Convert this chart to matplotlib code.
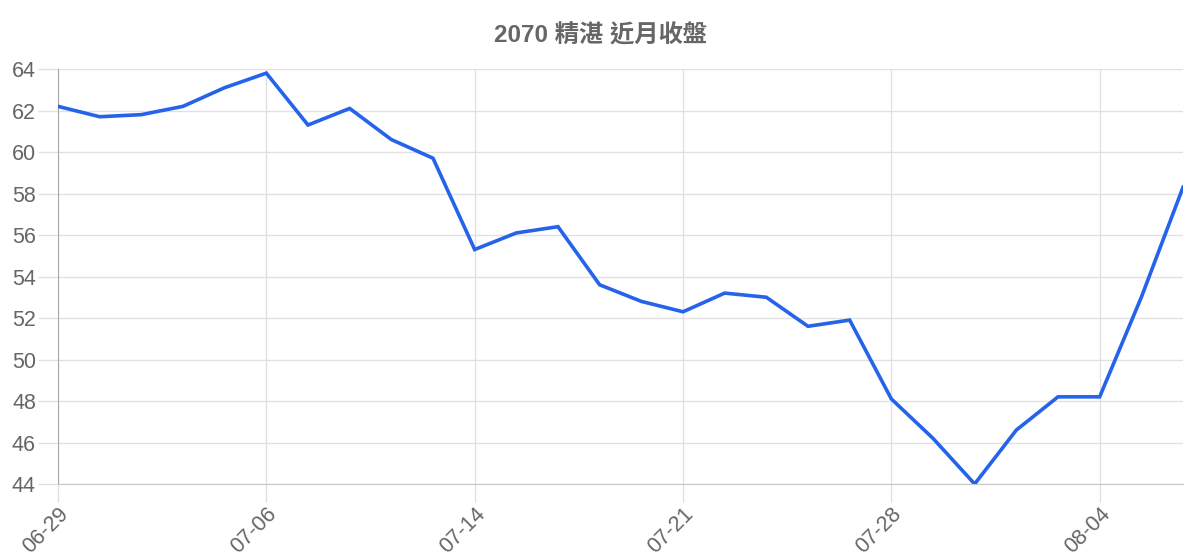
import matplotlib
matplotlib.use("Agg")
import matplotlib.pyplot as plt

plt.rcParams['font.family'] = ['Liberation Sans', 'Noto Sans CJK TC', 'DejaVu Sans']

# trading days and close prices
dates = ['06-29', '06-30', '07-01', '07-02', '07-03', '07-06', '07-07', '07-08',
         '07-09', '07-10', '07-14', '07-15', '07-16', '07-17', '07-20', '07-21',
         '07-22', '07-23', '07-24', '07-27', '07-28', '07-29', '07-30', '07-31',
         '08-03', '08-04', '08-05', '08-06']
closes = [62.2, 61.7, 61.8, 62.2, 63.1, 63.8, 61.3, 62.1, 60.6, 59.7,
          55.3, 56.1, 56.4, 53.6, 52.8, 52.3, 53.2, 53.0, 51.6, 51.9,
          48.1, 46.2, 44.0, 46.6, 48.2, 48.2, 53.0, 58.3]
title = '2070 精湛 近月收盤'
yticks = list(range(44, 65, 2))

fig = plt.figure(figsize=(12, 5.6), dpi=100)
ax = fig.add_axes([58 / 1200, 1 - 484 / 560, (1183 - 58) / 1200, (484 - 69) / 560])

x = list(range(len(dates)))
ax.plot(x, closes, color='#2563eb', linewidth=2.6, solid_joinstyle='miter', zorder=3)

ax.set_xlim(0, len(dates) - 1)
ax.set_ylim(44, 64)
ax.set_yticks(yticks)
xt = x[::5]
ax.set_xticks(xt)
ax.set_xticklabels([dates[i] for i in xt], rotation=45, ha='right', va='top',
                   rotation_mode='anchor')

ax.grid(True, color='#e1e1e1', linewidth=1.0)
ax.tick_params(axis='both', colors='#e1e1e1', labelcolor='#666666', labelsize=15.5, width=1.0)
ax.tick_params(axis='y', length=14.4, pad=1.5)
ax.tick_params(axis='x', length=13, pad=1)

for s in ['top', 'right']:
    ax.spines[s].set_visible(False)
ax.spines['left'].set_color('#aaaaaa')
ax.spines['bottom'].set_color('#c8c8c8')

fig.text(0.5, 1 - 36 / 560, title, ha='center', va='center', fontsize=17.5,
         fontweight='bold', color='#666666')

fig.savefig('out.png', dpi=100)
